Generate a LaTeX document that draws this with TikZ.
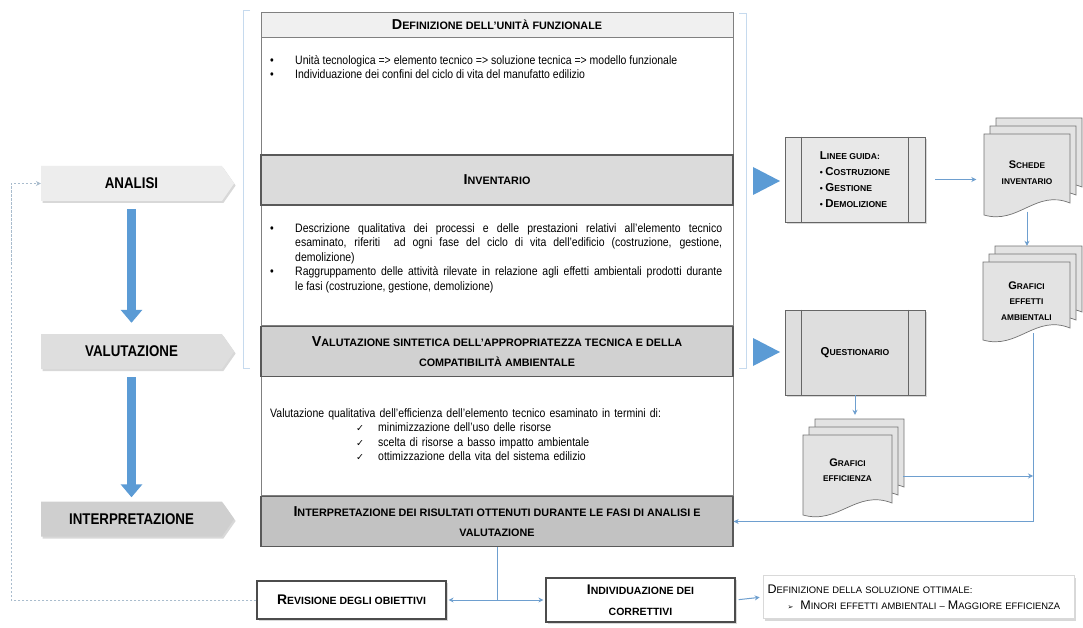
\documentclass[tikz,border=0pt]{standalone}
\usepackage{fontspec}
\setmainfont{Liberation Sans}
\newfontfamily\narrowfont{Liberation Sans}[FakeStretch=0.86]
\newfontfamily\symfont{DejaVu Sans}
\usetikzlibrary{arrows.meta,shapes.symbols,shadows}

\definecolor{azz}{HTML}{5B9BD5}
\definecolor{azzline}{HTML}{6E9FCF}
\definecolor{brk}{HTML}{C6DAEE}
\definecolor{fbline}{HTML}{A9BCCD}

% big initial inside small-caps text
\newcommand\up[1]{\scalebox{1.33}{#1}}
\newcommand\bul{\makebox[25pt][l]{•}}
\newcommand\chk{\makebox[22pt][l]{\symfont\fontsize{9.5}{9.5}\selectfont ✓}}

% one sheet with wavy bottom: x, y (top left), width, height
\newcommand\docpage[4]{%
  \filldraw[docpg] ({#1},{#2}) -- ({#1+#3},{#2}) -- ({#1+#3},{#2+#4-12})
    .. controls ({#1+0.6*#3},{#2+#4-26}) and ({#1+0.4*#3},{#2+#4+10})
    .. ({#1},{#2+#4}) -- cycle;}
% three stacked sheets
\newcommand\docstack[4]{%
  \docpage{#1+12}{#2-16}{#3}{#4}%
  \docpage{#1+6}{#2-8}{#3}{#4}%
  \docpage{#1}{#2}{#3}{#4}}

\begin{document}
\begin{tikzpicture}[x=1pt, y=-1pt,
  >={Stealth[length=5pt, width=5pt]},
  shd/.style    = {drop shadow={shadow xshift=1.5pt, shadow yshift=-2pt, opacity=0.3}},
  sig/.style    = {signal, signal to=east, signal pointer angle=110,
                   minimum width=193pt, minimum height=35pt, inner sep=0pt, shd,
                   font=\narrowfont\bfseries\fontsize{15.5}{16}\selectfont},
  hdr/.style    = {draw=black!65, line width=1.3pt, minimum width=472pt,
                   minimum height=50pt, inner sep=0pt, align=center,
                   font=\bfseries\fontsize{10.8}{20.5}\selectfont},
  body/.style   = {draw=black!50, line width=0.8pt, fill=white,
                   minimum width=472pt, minimum height=120pt, inner sep=0pt},
  txt/.style    = {anchor=north west, inner sep=0pt, text width=452pt, align=justify,
                   font=\narrowfont\fontsize{12.2}{14.5}\selectfont},
  proc/.style   = {draw=black!60, fill=gray!22, line width=0.8pt, minimum width=140pt,
                   minimum height=85pt, inner sep=0pt, shd,
                   font=\bfseries\fontsize{8.6}{16}\selectfont},
  docpg/.style  = {draw=black!55, fill=gray!22, line width=0.7pt},
  doctxt/.style = {inner sep=0pt, minimum width=87pt, minimum height=78pt, align=center,
                   font=\bfseries\fontsize{8.3}{15.5}\selectfont},
  endbox/.style = {draw=black!70, fill=white, line width=1.2pt, inner sep=0pt, shd,
                   align=center, font=\bfseries\fontsize{10.5}{21}\selectfont},
  flow/.style   = {draw=azzline, line width=1pt, ->},
  bigarr/.style = {azz, line width=9pt, -{Triangle[width=21pt, length=13pt]}},
  fb/.style     = {draw=fbline, line width=0.9pt, dash pattern=on 2.5pt off 1.5pt, ->},
]
\fill[white] (0,0) rectangle (1083,628);
\useasboundingbox (0,0) rectangle (1083,628);

%% phases on the left
\node[sig, fill=gray!14] (analisi) at (131.5,183.5) {ANALISI};
\node[sig, fill=gray!26] (valut)   at (131.5,351.5) {VALUTAZIONE};
\node[sig, fill=gray!38] (interpr) at (131.5,519)   {INTERPRETAZIONE};

\draw[bigarr] ([yshift=-8pt]analisi.south) -- ([yshift=11pt]valut.north);
\draw[bigarr] ([yshift=-8pt]valut.south)   -- ([yshift=4pt]interpr.north);

%% light brackets round the first three steps
\draw[brk, line width=1pt] (250,11) -- (243,11) -- (243,368) -- (250,368);
\draw[brk, line width=1pt] (739,14) -- (746,14) -- (746,368) -- (739,368);

%% central column
\node[body, minimum height=118pt] (bDef) at (497,96)  {};
\node[body] (bInv) at (497,265) {};
\node[body] (bVal) at (497,435) {};

\node[hdr, fill=gray!12, draw=black!50, line width=0.9pt, minimum height=25pt]
  (hDef) at (497,24.5) {\up{D}EFINIZIONE DELL’UNITÀ FUNZIONALE};
\node[hdr, fill=gray!28] (hInv) at (497,180) {\up{I}NVENTARIO};
\node[hdr, fill=gray!36] (hVal) at (497,351.5)
  {\up{V}ALUTAZIONE SINTETICA DELL’APPROPRIATEZZA TECNICA E DELLA\\COMPATIBILITÀ AMBIENTALE};
\node[hdr, fill=gray!48] (hInt) at (497,521.5)
  {\up{I}NTERPRETAZIONE DEI RISULTATI OTTENUTI DURANTE LE FASI DI ANALISI E\\VALUTAZIONE};

\node[txt] (tDef) at (270,55)
  {\bul Unità tecnologica => elemento tecnico => soluzione tecnica => modello funzionale\par
   \bul Individuazione dei confini del ciclo di vita del manufatto edilizio\par};

\node[txt] (tInv) at (270,223)
  {\hangindent=25pt\hangafter=1\bul Descrizione qualitativa dei processi e delle prestazioni relativi all’elemento tecnico\linebreak
   esaminato, riferiti \ ad ogni fase del ciclo di vita dell’edificio (costruzione, gestione,\linebreak
   demolizione)\par
   \hangindent=25pt\hangafter=1\bul Raggruppamento delle attività rilevate in relazione agli effetti ambientali prodotti durante\linebreak
   le fasi (costruzione, gestione, demolizione)\par};

\node[txt, align=left] (tVal) at (270,408)
  {Valutazione qualitativa dell’efficienza dell’elemento tecnico esaminato in termini di:\\
   \hspace*{86pt}\chk minimizzazione dell’uso delle risorse\\
   \hspace*{86pt}\chk scelta di risorse a basso impatto ambientale\\
   \hspace*{86pt}\chk ottimizzazione della vita del sistema edilizio};

%% tools on the right
\fill[azz] (753,167) -- (780,181) -- (753,195) -- cycle;
\fill[azz] (753,338) -- (780,352) -- (753,366) -- cycle;

\node[proc, fill=gray!18, align=left] (linee) at (855,179.5)
  {\up{L}INEE GUIDA:\\• \up{C}OSTRUZIONE\\• \up{G}ESTIONE\\• \up{D}EMOLIZIONE};
\node[proc, fill=gray!26] (quest) at (855,352.5) {\up{Q}UESTIONARIO};
\foreach \b in {linee,quest} {
  \draw[black!60, line width=0.8pt] ([xshift=17pt]\b.north west) -- ([xshift=17pt]\b.south west);
  \draw[black!60, line width=0.8pt] ([xshift=-17pt]\b.north east) -- ([xshift=-17pt]\b.south east);
}

\docstack{984}{134}{86}{81}
\node[doctxt] (schede) at (1027,172.5) {\up{S}CHEDE\\INVENTARIO};
\docstack{983}{262}{87}{78}
\node[doctxt] (grafe) at (1026.5,301) {\up{G}RAFICI\\EFFETTI\\AMBIENTALI};
\docstack{803}{435}{89}{80}
\node[doctxt] (graeff) at (847.5,470) {\up{G}RAFICI\\EFFICIENZA};

\coordinate (corner) at (1033,521.5);
\coordinate (effOut) at ([yshift=-6pt]graeff.east);

\draw[flow, shorten <=10pt, shorten >=7pt] (linee.east) -- (linee.east -| schede.west);
\draw[flow, shorten >=16pt] (schede.south) -- (schede.south |- grafe.north);
\draw[flow, shorten >=16pt] (quest.south) -- (quest.south |- graeff.north);
\draw[flow] (effOut) ++(12,0) -- (effOut -| corner);
\draw[flow, shorten <=-7pt] (grafe.south -| corner) -- (corner) -- (hInt.east);

%% bottom row
\node[endbox, minimum width=189pt, minimum height=38pt] (rev) at (351.5,600)
  {\up{R}EVISIONE DEGLI OBIETTIVI};
\node[endbox, minimum width=189pt, minimum height=44pt] (indiv) at (640.5,600)
  {\up{I}NDIVIDUAZIONE DEI\\CORRETTIVI};
\node[endbox, draw=black!15, line width=0.6pt, minimum width=311pt, minimum height=43pt,
      text width=302pt, align=left, font=\fontsize{9.4}{16}\selectfont] (sol) at (918.5,597)
  {\up{D}EFINIZIONE DELLA SOLUZIONE OTTIMALE:\\
   \hspace*{20pt}{\symfont\fontsize{7}{7}\selectfont ➢}\hspace{7pt}\up{M}INORI EFFETTI AMBIENTALI – \up{M}AGGIORE EFFICIENZA};

\draw[azzline, line width=1pt] (hInt.south) -- (hInt.south |- rev.east);
\draw[flow, <->, shorten <=2pt, shorten >=2pt] (rev.east) -- (indiv.west);
\draw[flow, shorten <=3pt, shorten >=3pt] (indiv.east) -- (sol.west);

%% back to the start
\draw[fb] (rev.west) -- ++(-245,0) |- (analisi.west);

\end{tikzpicture}
\end{document}
